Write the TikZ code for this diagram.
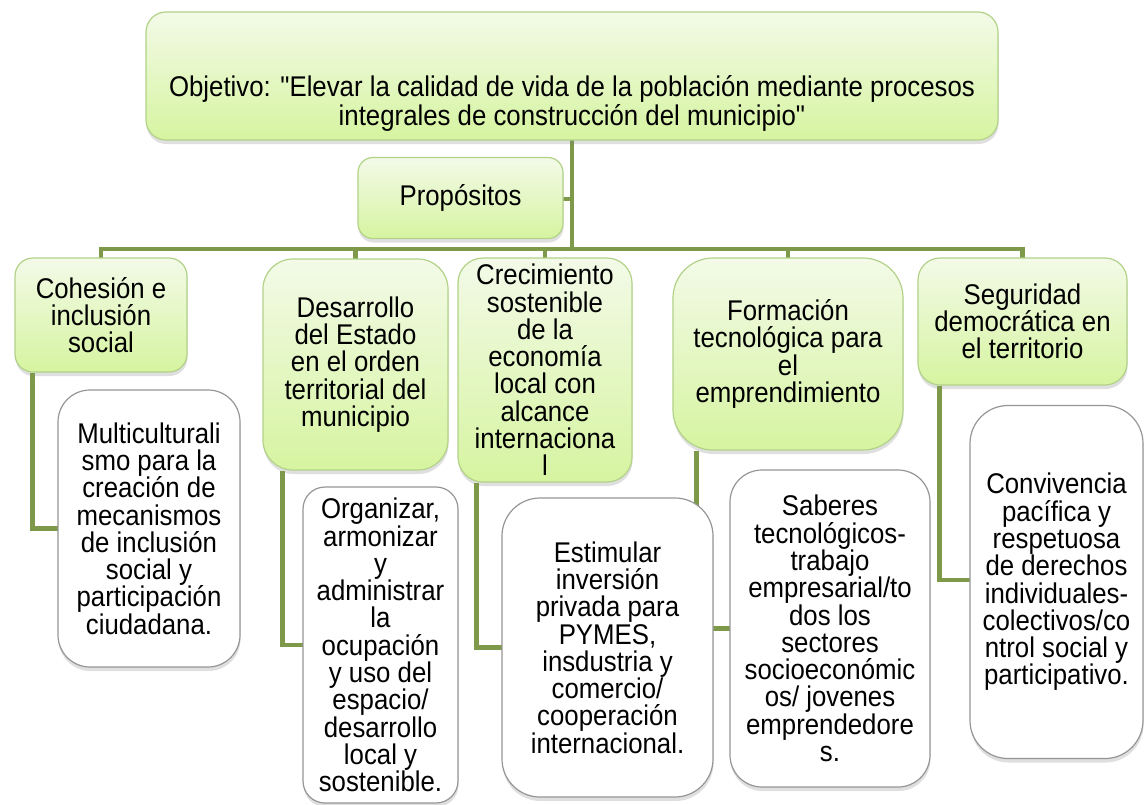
\documentclass[tikz,border=0pt]{standalone}
\usepackage{fontspec}
\setmainfont{Liberation Sans}[FakeStretch=0.905, Ligatures=TeXOff]
\usetikzlibrary{shadows}
\definecolor{conncol}{RGB}{126,153,74}
\definecolor{gtop}{RGB}{243,250,232}
\definecolor{gbot}{RGB}{214,244,160}
\definecolor{gborder}{RGB}{178,210,136}
\definecolor{wborder}{RGB}{150,150,150}
\begin{document}
\begin{tikzpicture}[x=1pt,y=-1pt,
  connector/.style={draw=conncol, line width=4.5pt},
  boxtext/.style={align=center, inner sep=0pt, font=\fontsize{28.5}{27.3}\selectfont},
  gbox/.style={boxtext, draw=gborder, line width=1.2pt, top color=gtop, bottom color=gbot,
    drop shadow={opacity=0.25, shadow xshift=0.5pt, shadow yshift=-4pt}},
  wbox/.style={boxtext, draw=wborder, line width=1.2pt, fill=white,
    drop shadow={opacity=0.25, shadow xshift=0.5pt, shadow yshift=-4pt}}
]
\useasboundingbox[fill=white] (0,0) rectangle (1146,804);

\coordinate (hub) at (572,249);

% ---------- connectors first (boxes cover their ends) ----------
\coordinate (objbot) at (572,140);
\coordinate (propright) at (563,199);
\draw[connector] (objbot) -- (hub);
\draw[connector] (propright) -- (propright -| hub);
\draw[connector] (hub) -| (101,260);
\draw[connector] (hub) -| (355.5,260);
\draw[connector] (hub) -| (545,260);
\draw[connector] (hub) -| (788,260);
\draw[connector] (hub) -| (1022.5,260);

% ---------- top level ----------
\node[gbox, minimum width=852, minimum height=128, rounded corners=20] (obj) at (572,76) {};
\node[boxtext, font=\fontsize{28.5}{29}\selectfont] (objtxt) at (572,103) {Objetivo: "Elevar la calidad de vida de la población mediante procesos\\integrales de construcción del municipio"};

\node[gbox, minimum width=205, minimum height=81, rounded corners=15] (prop) at (460.5,198) {Propósitos};

% ---------- level 1 ----------
\node[gbox, minimum width=172, minimum height=114, rounded corners=18] (coh) at (101,315) {Cohesión e\\inclusión\\social};
\node[gbox, minimum width=185, minimum height=211, rounded corners=30] (des) at (355.5,364.5) {Desarrollo\\del Estado\\en el orden\\territorial del\\municipio};
\node[gbox, minimum width=174, minimum height=224, rounded corners=25] (cre) at (545,370) {Crecimiento\\sostenible\\de la\\economía\\local con\\alcance\\internaciona\\l};
\node[gbox, minimum width=230, minimum height=192, rounded corners=40] (form) at (788,354) {Formación\\tecnológica para\\el\\emprendimiento};
\node[gbox, minimum width=209, minimum height=127, rounded corners=22] (seg) at (1022.5,321.5) {Seguridad\\democrática en\\el territorio};

% ---------- level 2 connectors ----------
\coordinate (mulin) at (58,528.5);
\coordinate (orgin) at (303,645);
\coordinate (estin) at (502,647.5);
\coordinate (sabin) at (730,628.5);
\coordinate (conin) at (970,580);
\draw[connector] ([xshift=18pt]coh.south west) |- (mulin);
\draw[connector] ([xshift=20pt]des.south west) |- (orgin);
\draw[connector] ([xshift=19pt]cre.south west) |- (estin);
\draw[connector] ([xshift=24pt]form.south west) |- (sabin);
\draw[connector] ([xshift=22pt]seg.south west) |- (conin);

% ---------- level 2 ----------
\node[wbox, minimum width=182, minimum height=277, rounded corners=32] (mul) at (149,528.5) {Multiculturali\\smo para la\\creación de\\mecanismos\\de inclusión\\social y\\participación\\ciudadana.};
\node[wbox, minimum width=155, minimum height=316, rounded corners=22] (org) at (380.5,645) {Organizar,\\armonizar\\y\\administrar\\la\\ocupación\\y uso del\\espacio/\\desarrollo\\local y\\sostenible.};
\node[wbox, minimum width=211, minimum height=299, rounded corners=38] (est) at (607.5,647.5) {Estimular\\inversión\\privada para\\PYMES,\\insdustria y\\comercio/\\cooperación\\internacional.};
\node[wbox, minimum width=200, minimum height=317, rounded corners=32] (sab) at (830,628.5) {Saberes\\tecnológicos-\\trabajo\\empresarial/to\\dos los\\sectores\\socioeconómic\\os/ jovenes\\emprendedore\\s.};
\node[wbox, minimum width=173, minimum height=353, rounded corners=38] (con) at (1056.5,582) {Convivencia\\pacífica y\\respetuosa\\de derechos\\individuales-\\colectivos/co\\ntrol social y\\participativo.};
\end{tikzpicture}
\end{document}
